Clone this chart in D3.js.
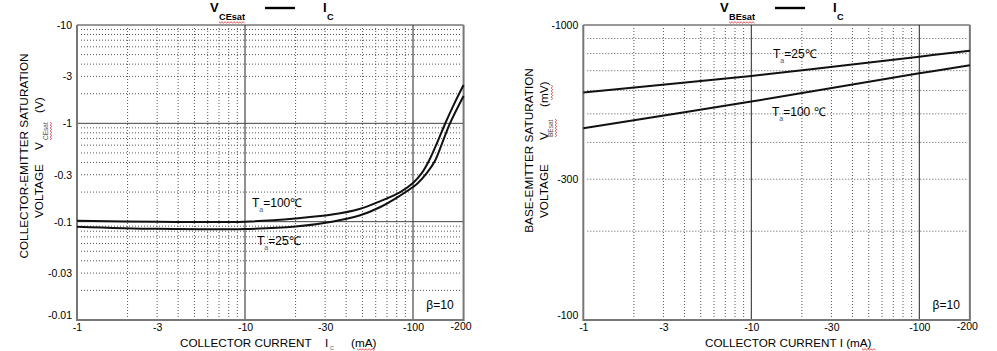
<!DOCTYPE html>
<html>
<head>
<meta charset="utf-8">
<script src="https://cdn.jsdelivr.net/npm/d3@7"></script>
<style>
  body { margin: 0; background: #fff; }
  svg { display: block; font-family: Arial, "Liberation Sans", sans-serif; }
</style>
</head>
<body>
<svg id="chart" width="997" height="351"></svg>
<script>
// tick labels (magnitudes, drawn with a minus sign)
const currentTicks = [1, 3, 10, 30, 100, 200];
const vceTicks = [10, 3, 1, 0.3, 0.1, 0.03, 0.01];
const vbeTicks = [1000, 300, 100];

// VCE(sat) - IC, beta = 10  (IC in mA, VCE in V)
const vceIc100 = [1, 3, 10, 20, 33, 48, 64, 84, 100, 113, 126, 139, 155, 175, 200];
const vce100 = [0.102, 0.0997, 0.0999, 0.1077, 0.118, 0.1346, 0.162, 0.2, 0.247, 0.313, 0.434, 0.631, 0.985, 1.55, 2.45];
const vceIc25 = [1, 3, 10, 20, 33, 48, 64, 84, 100, 107, 121, 135, 149, 166, 200];
const vce25 = [0.089, 0.0846, 0.0842, 0.0893, 0.1, 0.1155, 0.141, 0.1845, 0.225, 0.247, 0.313, 0.414, 0.626, 1.0, 1.9];

// VBE(sat) - IC  (IC in mA, VBE in mV)
const vbeIc = [1, 10, 100, 200];
const vbe25 = [591, 672, 781, 818];
const vbe100 = [447, 550, 686, 730];

const svg = d3.select("#chart");
const decade = 168; // px per decade on the current axis
const isDecade = (v) => Math.abs(Math.log10(v) - Math.round(Math.log10(v))) < 1e-9;

// red spell-check squiggle under a stretch of text (local coords)
function squiggle(g, x1, x2, y) {
  const pts = [];
  for (let x = x1, i = 0; x <= x2; x += 1.5, i++) pts.push([x, y + (i % 2 ? 1 : -0.2)]);
  g.append("path")
    .attr("d", d3.line()(pts))
    .attr("fill", "none")
    .attr("stroke", "#e02020")
    .attr("stroke-width", 0.8);
}

function panel(opt) {
  const g = svg.append("g");
  const x = d3.scaleLog().domain([1, 200]).range([opt.left, opt.left + decade * Math.log10(200)]);
  const y = d3.scaleLog().domain(opt.yDomain).range([320, 25]);
  const [x0, x1] = x.range();
  const [yb, yt] = y.range();

  // minor dotted grid
  const minorX = x.ticks().filter((v) => v > 1 && v < 200 && !isDecade(v));
  const minorY = y.ticks().filter((v) => v > opt.yDomain[0] && v < opt.yDomain[1] && !isDecade(v));
  g.append("g")
    .selectAll("line")
    .data(minorX)
    .join("line")
    .attr("x1", (d) => x(d)).attr("x2", (d) => x(d))
    .attr("y1", yt + 3).attr("y2", yb)
    .attr("stroke", "#555")
    .attr("stroke-dasharray", "1,2");
  g.append("g")
    .selectAll("line")
    .data(minorY)
    .join("line")
    .attr("x1", x0 + 4).attr("x2", x1 - 2)
    .attr("y1", (d) => y(d)).attr("y2", (d) => y(d))
    .attr("stroke", "#555")
    .attr("stroke-dasharray", "1,2");

  // solid decade lines
  g.append("g")
    .selectAll("line")
    .data(x.ticks().filter((v) => v > 1 && v < 200 && isDecade(v)))
    .join("line")
    .attr("x1", (d) => x(d)).attr("x2", (d) => x(d))
    .attr("y1", yt).attr("y2", yb)
    .attr("stroke", "#222");
  g.append("g")
    .selectAll("line")
    .data(y.ticks().filter((v) => v > opt.yDomain[0] && v < opt.yDomain[1] && isDecade(v)))
    .join("line")
    .attr("x1", x0).attr("x2", x1)
    .attr("y1", (d) => y(d)).attr("y2", (d) => y(d))
    .attr("stroke", "#444");

  // frame
  g.append("line").attr("x1", x0).attr("x2", x1).attr("y1", yt).attr("y2", yt).attr("stroke", "#333");
  g.append("path")
    .attr("d", `M${x0},${yt}V${yb}H${x1}V${yt}`)
    .attr("fill", "none")
    .attr("stroke", "#777")
    .attr("stroke-width", 2);

  // curves
  const line = d3.line().x((d) => x(d[0])).y((d) => y(d[1])).curve(d3.curveCatmullRom.alpha(0.5));
  opt.series.forEach((s) => {
    g.append("path")
      .datum(d3.zip(s.ic, s.v))
      .attr("d", line)
      .attr("fill", "none")
      .attr("stroke", "#111")
      .attr("stroke-width", 2);
  });

  // axes
  g.append("g")
    .attr("transform", `translate(${x0 - 3},0)`)
    .call(d3.axisLeft(y).tickValues(opt.yTicks).tickFormat((d) => "-" + d).tickSize(0).tickPadding(2))
    .call((a) => a.select(".domain").remove())
    .selectAll("text")
    .attr("font-size", 10.5)
    .attr("font-family", "Arial, 'Liberation Sans', sans-serif")
    .attr("fill", "#000")
    .attr("dy", (d) => (d === opt.yDomain[0] ? "-0.1em" : "0.32em"));
  g.append("g")
    .attr("transform", `translate(0,${yb})`)
    .call(d3.axisBottom(x).tickValues(currentTicks).tickFormat((d) => "-" + d).tickSize(0).tickPadding(4))
    .call((a) => a.select(".domain").remove())
    .selectAll("text")
    .attr("font-size", 10.5)
    .attr("font-family", "Arial, 'Liberation Sans', sans-serif")
    .attr("fill", "#000")
    .attr("dx", (d) => (d === 200 ? -3 : 0))
    .attr("dy", (d) => (d === 200 ? "0.6em" : "0.71em"));

  // beta note
  g.append("text")
    .attr("x", x1 - 10).attr("y", yb - 11)
    .attr("text-anchor", "end")
    .attr("font-size", 12)
    .text("β=10");

  // curve labels
  opt.labels.forEach((l) => {
    const t = g.append("text").attr("x", l.x).attr("y", l.y).attr("font-size", 12);
    t.append("tspan").text("T");
    t.append("tspan").attr("font-size", 7).attr("fill", "#4a5a7a").attr("dy", 5).text("a");
    t.append("tspan").attr("dy", -5).text(l.text);
  });

  // title
  const tt = g.append("g").attr("font-weight", "bold");
  tt.append("text").attr("x", opt.titleX).attr("y", 12).attr("font-size", 13).text("V");
  tt.append("text").attr("x", opt.titleX + 9).attr("y", 19.5).attr("font-size", 9.2).text(opt.sub);
  squiggle(tt, opt.titleX + 9, opt.titleX + 35, 22);
  tt.append("line")
    .attr("x1", opt.titleX + 55).attr("x2", opt.titleX + 85)
    .attr("y1", 8).attr("y2", 8)
    .attr("stroke", "#000").attr("stroke-width", 2.4);
  tt.append("text").attr("x", opt.titleX + 113).attr("y", 12).attr("font-size", 13).text("I");
  tt.append("text").attr("x", opt.titleX + 117).attr("y", 19.5).attr("font-size", 9.2).text("C");

  return g;
}

// ---------- left panel ----------
const left = panel({
  left: 77,
  yDomain: [0.01, 10],
  yTicks: vceTicks,
  series: [
    { ic: vceIc100, v: vce100 },
    { ic: vceIc25, v: vce25 },
  ],
  labels: [
    { x: 252, y: 207, text: "=100℃" },
    { x: 257, y: 245, text: "=25℃" },
  ],
  titleX: 210,
  sub: "CEsat",
});

// y title
left.append("text")
  .attr("transform", "translate(28,156) rotate(-90)")
  .attr("text-anchor", "middle")
  .attr("font-size", 11.8)
  .text("COLLECTOR-EMITTER SATURATION");
const ly = left.append("g").attr("transform", "translate(43,0) rotate(-90)").attr("font-size", 11.8);
ly.append("text").attr("x", -218).text("VOLTAGE");
ly.append("text").attr("x", -150).text("V");
ly.append("text").attr("x", -140).attr("y", 5).attr("font-size", 6.5).attr("fill", "#555").text("CEsat");
squiggle(ly, -140, -121, 7.5);
ly.append("text").attr("x", -113).text("(V)");

// x title
const lx = left.append("g").attr("font-size", 11.7);
lx.append("text").attr("x", 180).attr("y", 347).text("COLLECTOR CURRENT");
lx.append("text").attr("x", 325).attr("y", 347).text("I");
lx.append("text").attr("x", 330).attr("y", 350).attr("font-size", 5.5).attr("fill", "#555").text("C");
lx.append("text").attr("x", 351).attr("y", 347).text("(mA)");
squiggle(lx, 357, 376, 349);

// ---------- right panel ----------
const right = panel({
  left: 583.3,
  yDomain: [100, 1000],
  yTicks: vbeTicks,
  series: [
    { ic: vbeIc, v: vbe25 },
    { ic: vbeIc, v: vbe100 },
  ],
  labels: [
    { x: 773, y: 58, text: "=25℃" },
    { x: 772, y: 116, text: "=100 ℃" },
  ],
  titleX: 720,
  sub: "BEsat",
});

right.append("text")
  .attr("transform", "translate(533,150.5) rotate(-90)")
  .attr("text-anchor", "middle")
  .attr("font-size", 11.8)
  .text("BASE-EMITTER SATURATION");
const ry = right.append("g").attr("transform", "translate(548,0) rotate(-90)").attr("font-size", 11.8);
ry.append("text").attr("x", -218).text("VOLTAGE");
ry.append("text").attr("x", -140).text("V");
ry.append("text").attr("x", -137).attr("y", 5).attr("font-size", 6.5).attr("fill", "#555").text("BEsat");
squiggle(ry, -137, -119, 7.5);
ry.append("text").attr("x", -107).text("(mV)");
squiggle(ry, -100, -84, 3.5);

const rx = right.append("g").attr("font-size", 11.7);
rx.append("text").attr("x", 705).attr("y", 347).text("COLLECTOR CURRENT I  (mA)");
squiggle(rx, 862, 876, 349);
</script>
</body>
</html>
